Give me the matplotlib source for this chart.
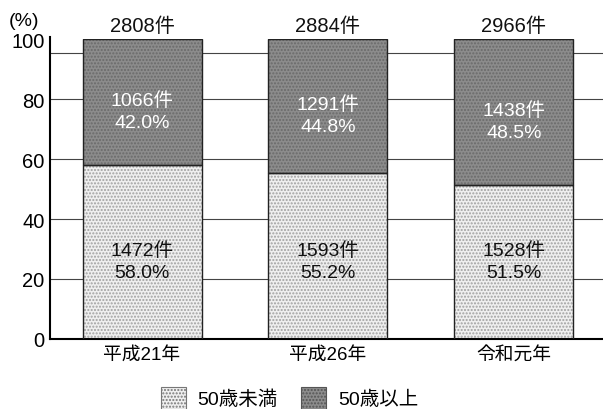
import matplotlib
matplotlib.use('Agg')
import matplotlib.pyplot as plt
from matplotlib.patches import Patch

plt.rcParams['font.family'] = ['Liberation Sans', 'Noto Sans CJK JP', 'DejaVu Sans']

categories = ['平成21年', '平成26年', '令和元年']
totals = [2808, 2884, 2966]
under50_count = [1472, 1593, 1528]
under50_pct = [58.0, 55.2, 51.5]
over50_count = [1066, 1291, 1438]
over50_pct = [42.0, 44.8, 48.5]
yticks = [0, 20, 40, 60, 80, 100]

fig = plt.figure(figsize=(6.03, 4.10), dpi=100)
ax = fig.add_axes([0.083, 0.171, 0.917, 0.731])

x = list(range(len(categories)))
w = 0.64

# gridlines (the top one sits a little below 100 in the original)
for gy in [20, 40, 60, 80, 95.5]:
    ax.axhline(gy, color='#444444', lw=0.8, zorder=0)

# stippled fills
ax.bar(x, under50_pct, w, color='#efefef', hatch='.....', edgecolor='#a0a0a0', lw=0, zorder=2)
ax.bar(x, over50_pct, w, bottom=under50_pct, color='#8c8c8c', hatch='.....', edgecolor='#6a6a6a', lw=0, zorder=2)
# outlines
ax.bar(x, under50_pct, w, fill=False, edgecolor='#222222', lw=1.0, zorder=3)
ax.bar(x, over50_pct, w, bottom=under50_pct, fill=False, edgecolor='#222222', lw=1.0, zorder=3)

for i in x:
    ax.text(i, 26, f'{under50_count[i]}件\n{under50_pct[i]:.1f}%', ha='center', va='center',
            fontsize=14, color='#111111', linespacing=1.4, zorder=4)
    ax.text(i, under50_pct[i] + over50_pct[i] / 2 - 3, f'{over50_count[i]}件\n{over50_pct[i]:.1f}%',
            ha='center', va='center', fontsize=14, color='white', linespacing=1.4, zorder=4)
    ax.text(i, 101.5, f'{totals[i]}件', ha='center', va='bottom', fontsize=14.5, color='#111111')

ax.set_xlim(-0.495, 2.48)
ax.set_ylim(0, 100)
ax.set_yticks(yticks)
ax.set_yticklabels([str(t) for t in yticks], fontsize=14.5)
ax.set_xticks(x)
ax.set_xticklabels(categories, fontsize=13.5)
ax.tick_params(axis='y', length=0, pad=4)
ax.tick_params(axis='x', length=0, pad=5)
for s in ['top', 'right']:
    ax.spines[s].set_visible(False)
ax.spines['left'].set_linewidth(1.5)
ax.spines['bottom'].set_linewidth(1.5)
ax.spines['left'].set_bounds(0, 100.8)

fig.text(0.014, 0.948, '(%)', fontsize=14, ha='left', va='center')

handles = [Patch(facecolor='#efefef', hatch='.....', edgecolor='#777777', lw=0.8),
           Patch(facecolor='#8c8c8c', hatch='.....', edgecolor='#555555', lw=0.8)]
fig.legend(handles, ['50歳未満', '50歳以上'], loc='center', bbox_to_anchor=(0.48, 0.027),
           ncol=2, frameon=False, fontsize=14, handlelength=1.3, handleheight=1.3,
           columnspacing=1.2, handletextpad=0.6)

fig.savefig('out.png', dpi=100)
